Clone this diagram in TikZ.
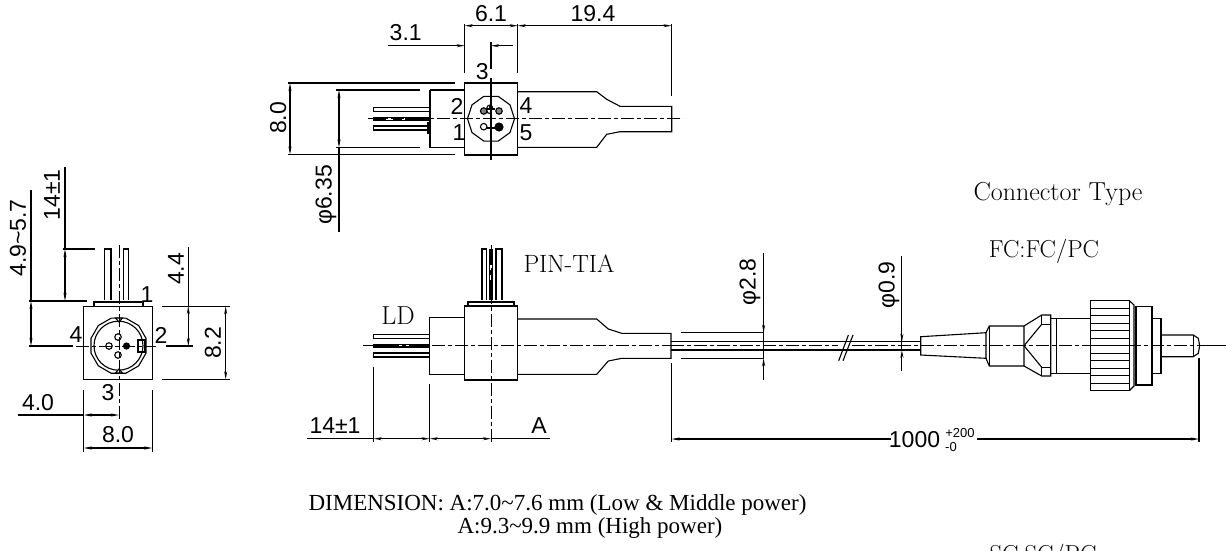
\documentclass[tikz,border=0pt]{standalone}
\usepackage{fontspec}
\newfontfamily\cadfont{Liberation Sans}
\newfontfamily\timesfont{Liberation Serif}
\usetikzlibrary{arrows.meta,shapes.geometric}

\begin{document}
\begin{tikzpicture}[x=1pt, y=-1pt, line width=1.1pt, >={Stealth[length=8pt,width=3pt]},
    body/.style = {draw, minimum width=53pt, minimum height=73pt, inner sep=0pt},
    hole/.style = {draw, circle, inner sep=0pt, minimum size=6.5pt},
    dot/.style = {draw, fill, circle, inner sep=0pt, minimum size=6pt},
    axis/.style = {line width=1pt, dash pattern=on 13pt off 3pt on 4pt off 3pt},
    cad/.style = {font=\cadfont\fontsize{23}{23}\selectfont, inner sep=0pt},
    small/.style = {font=\cadfont\fontsize{13}{13}\selectfont, inner sep=0pt},
    serif/.style = {font=\fontsize{24.5}{24.5}\selectfont, inner sep=0pt},
    times/.style = {font=\timesfont\fontsize{23}{23}\selectfont, inner sep=0pt, anchor=west}]
    \useasboundingbox (0,0) rectangle (1226,550);

    % left view
    \node[body, minimum width=68.6pt] (frontbox) at (118,342.8) {};
    \node[draw, regular polygon, regular polygon sides=12, minimum size=57pt, inner sep=0pt] (frontring) at (118.5,345.7) {};
    \node[draw, circle, minimum size=49pt, inner sep=0pt] (frontdisc) at (118.5,345.7) {};
    \node[hole] (front1) at (118,337) {};
    \node[hole] (front2) at (109,346) {};
    \node[hole] (front3) at (118,355) {};
    \node[dot] (front4) at (126.5,346) {};
    \draw (138,340) rectangle (145,352);
    \draw[fill=white] (115.5,318) -- (122.5,318) -- (119,322) -- cycle;
    \draw[fill=white] (115.5,373) -- (122.5,373) -- (119,369) -- cycle;
    \draw[line width=2pt] (94,306) -- (94,302) -- (142.5,302) -- (142.5,306);
    \draw (104.7,300) -- (104.7,249) -- (111,249) -- (111,300);
    \draw (123.7,300) -- (123.7,249) -- (128.3,249) -- (128.3,300);
    \draw[axis] (119,245) -- (119,420);
    \draw[axis] (76,346) -- (156,346);
    \draw (62.7,249) -- (95,249);
    \draw (29,301) -- (87,301);
    \draw (65,167) -- (65,249);
    \draw[<->] (65,249) -- (65,301);
    \draw (31,190) -- (31,301);
    \draw[<->] (31,301) -- (31,346);
    \draw (29,346) -- (73,346);
    \draw (188.3,247) -- (188.3,306);
    \draw[<->] (188.3,306) -- (188.3,346);
    \draw (166,346) -- (193,346);
    \draw (162,306.3) -- (230,306.3);
    \draw (162,379.3) -- (230,379.3);
    \draw[<->] (225.7,306.3) -- (225.7,379.3);
    \draw (83.7,390) -- (83.7,452);
    \draw (152.3,390) -- (152.3,452);
    \draw (18,415) -- (83.7,415);
    \draw[<->] (83.7,415) -- (119,415);
    \draw[<->] (83.7,448) -- (152.3,448);
    \node[cad, rotate=90] (len1) at (52,195) {14±1};
    \node[cad, rotate=90] (len2) at (18,238) {4.9\char"007E 5.7};
    \node[cad, rotate=90] (len3) at (176,269) {4.4};
    \node[cad, rotate=90] (len4) at (213,343) {8.2};
    \node[cad] (len5) at (38,403) {4.0};
    \node[cad] (len6) at (118,435) {8.0};
    \node[cad] (pin1) at (147,295) {1};
    \node[cad] (pin2) at (161,335) {2};
    \node[cad] (pin3) at (108,393) {3};
    \node[cad] (pin4) at (76,335) {4};

    % top view
    \node[body, minimum height=72pt] (topbox) at (491.2,119) {};
    \node[draw, regular polygon, regular polygon sides=10, minimum size=47pt, inner sep=0pt] (topring) at (491,118.7) {};
    \node[hole, fill=gray] (top1) at (483.7,111) {};
    \node[hole, fill=gray] (top2) at (499,111) {};
    \node[hole] (top3) at (483.7,126.7) {};
    \node[dot, minimum size=8pt] (top4) at (499,127) {};
    \fill (489,105.5) rectangle (493,110);
    \draw (491,114) arc (90:270:4.7);
    \draw (487,109) -- (495,109);
    \draw (487,128) -- (495,128);
    \draw (430,90) -- (464.7,90);
    \draw (430,147.7) -- (464.7,147.7);
    \draw (430,90) -- (430,147.7);
    \draw (517.7,91.7) -- (596.7,91.7) -- (606.7,99.3) -- (620,106.3) -- (671.7,106.3) -- (671.7,131.7) -- (620,131.7) -- (606.7,134.3) -- (596.7,147.3) -- (517.7,147.3);
    \draw (430,107.7) -- (373.3,107.7) -- (373.3,111.7) -- (430,111.7);
    \draw (430,126) -- (373.3,126) -- (373.3,130) -- (430,130);
    \fill (373.3,117.3) rectangle (430,120.7);
    \draw[white, line width=1.2pt, dash pattern=on 7pt off 9pt] (386,119) -- (405,119);
    \draw[line width=2pt] (428,122) -- (428,134);
    \draw[axis] (368,118.7) -- (683,118.7);
    \draw (491,42) -- (491,69);
    \draw (491,78) -- (491,160);
    \draw (288,83) -- (455,83);
    \draw (288,154.5) -- (455,154.5);
    \draw[<->] (290,83) -- (290,154.5);
    \draw (335.7,90) -- (420,90);
    \draw (335.7,147.5) -- (420,147.5);
    \draw[<->] (339,90) -- (339,147.5);
    \draw (339,147.5) -- (339,231.7);
    \draw (464.7,24) -- (464.7,73);
    \draw (517.7,24) -- (517.7,73);
    \draw (671.5,24) -- (671.5,96);
    \draw[<->] (464.7,25.7) -- (517.7,25.7);
    \draw[<->] (517.7,25.7) -- (671.5,25.7);
    \draw[->] (387.7,45.7) -- (464.7,45.7);
    \draw[->] (512.7,45.7) -- (491,45.7);
    \node[cad] (len7) at (491,14) {6.1};
    \node[cad] (len8) at (593,14) {19.4};
    \node[cad] (len9) at (405.7,33) {3.1};
    \node[cad, rotate=90] (len10) at (278.3,118) {8.0};
    \node[cad, rotate=90] (len11) at (326,195) {φ6.35};
    \node[cad] (tpin3) at (482.3,71.7) {3};
    \node[cad] (tpin2) at (457,106) {2};
    \node[cad] (tpin1) at (459,133) {1};
    \node[cad] (tpin4) at (526,106) {4};
    \node[cad] (tpin5) at (526,133) {5};

    % side view
    \node[body, minimum height=74pt] (sidebox) at (491.2,343) {};
    \draw (464.7,317.3) -- (429.7,317.3) -- (429.7,374.3) -- (464.7,374.3);
    \draw (517.7,319) -- (596.7,319) -- (608.3,329) -- (621.7,333.3) -- (671,333.3) -- (671,358.3) -- (621.7,358.3) -- (608.3,361) -- (596.7,374.3) -- (517.7,374.3);
    \draw (429.7,334.7) -- (373.3,334.7) -- (373.3,338.3) -- (429.7,338.3);
    \draw (429.7,353) -- (373.3,353) -- (373.3,357) -- (429.7,357);
    \fill (373.3,344) rectangle (429.7,347.7);
    \draw[white, line width=1.2pt, dash pattern=on 6pt off 4pt] (396,345.7) -- (412,345.7);
    \draw (482,300) -- (482,249) -- (486.7,249) -- (486.7,300);
    \draw (496,300) -- (496,249) -- (502,249) -- (502,300);
    \fill (489,249) rectangle (493,300);
    \draw[white, line width=1.2pt, dash pattern=on 5pt off 5pt] (491,265) -- (491,282);
    \draw[line width=2pt] (468,306) -- (468,302) -- (514.3,302) -- (514.3,306);
    \draw[axis] (491,245) -- (491,443);
    \draw[axis] (363,345.7) -- (671,345.7);
    \draw (373.7,366.7) -- (373.7,442);
    \draw (429.7,384) -- (429.7,442);
    \draw (671.5,363) -- (671.5,442);
    \draw (307,438.7) -- (373.7,438.7);
    \draw[<->] (373.7,438.7) -- (429.7,438.7);
    \draw[<->] (429.7,438.7) -- (491,438.7);
    \draw (491,438.7) -- (550,438.7);
    \node[cad] (len12) at (335,425.7) {14±1};
    \node[cad] (len13) at (539,425.7) {A};
    \node[serif, font=\fontsize{26}{26}\selectfont] (ldlabel) at (398,316) {LD};
    \node[serif, font=\fontsize{25}{25}\selectfont] (pinlabel) at (569,264) {PIN-TIA};

    % cable
    \draw (681,332.7) -- (763.6,332.7);
    \draw (681,358.3) -- (763.6,358.3);
    \draw (671,341.7) -- (920.7,341.7);
    \draw (671,350) -- (920.7,350);
    \draw[axis] (671,345.7) -- (838,345.7);
    \draw[axis] (852,345.7) -- (920.7,345.7);
    \draw (838.7,360.7) -- (848.4,335);
    \draw (843,360.7) -- (853,335);
    \draw (763.6,252.7) -- (763.6,332.7);
    \draw[->] (763.6,310) -- (763.6,332.7);
    \draw (763.6,332.7) -- (763.6,358.3);
    \draw[->] (763.6,380) -- (763.6,358.3);
    \draw (901.9,256) -- (901.9,341.7);
    \draw[->] (901.9,320) -- (901.9,341.7);
    \draw (901.9,341.7) -- (901.9,350);
    \draw[->] (901.9,371) -- (901.9,350);
    \node[cad, rotate=90] (len14) at (750,281.7) {φ2.8};
    \node[cad, rotate=90] (len15) at (889,285) {φ0.9};
    \draw (1199,358) -- (1199,442);
    \draw[<-] (671.5,439) -- (891,439);
    \draw[->] (977,439) -- (1199,439);
    \node[cad] (len16) at (914.5,440) {1000};
    \node[small] (tolup) at (960,433) {+200};
    \node[small] (toldown) at (951,447.5) {-0};

    % connector
    \draw (920.7,336.7) -- (986,332.7) -- (986,358.3) -- (920.7,355) -- cycle;
    \draw (986,332.7) -- (989.3,326) -- (1024,326) -- (1024,366) -- (989.3,366) -- (986,358.3);
    \draw (989.3,326) -- (989.3,366);
    \draw (1024,326) -- (1041.7,315) -- (1050.7,315) -- (1050.7,376) -- (1041.7,376) -- (1024,366);
    \draw (1041.7,315) -- (1041.7,324.3) -- (1050.7,324.3);
    \draw (1041.7,376) -- (1041.7,367.3) -- (1050.7,367.3);
    \draw (1041.7,324.3) -- (1024,345.7) -- (1041.7,367.3);
    \draw (1056.7,318.3) -- (1056.7,373.3);
    \draw (1050.7,318.3) -- (1090.7,318.3);
    \draw (1050.7,373.3) -- (1090.7,373.3);
    \foreach \stripe in {308.2,315.7,...,384} {
        \draw[line width=.8pt] (1090.7,\stripe) -- (1129.3,\stripe);
    }
    \draw (1090.7,300.7) rectangle (1129.3,390.7);
    \draw (1129.3,300.7) -- (1134,305) -- (1134,386) -- (1129.3,390.7);
    \draw (1136,306.7) rectangle (1152,385);
    \draw (1152,318.3) -- (1161,318.3) -- (1161,373.3) -- (1152,373.3);
    \draw (1161,335) -- (1193.3,335) -- (1198.3,338.3) -- (1199.7,345.7) -- (1198.3,353.3) -- (1193.3,356.7) -- (1161,356.7);
    \draw (1193.3,335) -- (1193.3,356.7);
    \draw[axis] (920.7,345.7) -- (1199,345.7);
    \draw (1199,345.7) -- (1226,345.7);

    % texts
    \node[serif, font=\fontsize{26}{26}\selectfont] (conntitle) at (1058,194) {Connector Type};
    \node[serif] (fclabel) at (1044,251) {FC:FC/PC};
    \node[serif] (sclabel) at (1043,556) {SC:SC/PC};
    \node[times] (dimtext) at (308,505) {DIMENSION: A:7.0\char"007E 7.6 mm (Low \& Middle power)};
    \node[times] (hightext) at (457,528) {A:9.3\char"007E 9.9 mm (High power)};
\end{tikzpicture}
\end{document}
